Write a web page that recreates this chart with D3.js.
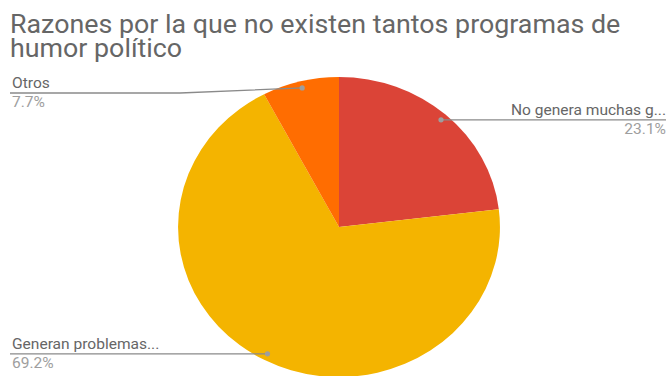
<!DOCTYPE html>
<html>
<head>
<meta charset="utf-8">
<script src="https://cdn.jsdelivr.net/npm/d3@7"></script>
<style>
  html, body { margin: 0; padding: 0; background: #fff; }
  svg { display: block; font-family: Roboto, "Noto Sans", sans-serif; }
</style>
</head>
<body>
<svg id="chart" width="668" height="376"></svg>
<script>
// Chart data
const titleLines = ["Razones por la que no existen tantos programas de", "humor político"];
const categories = ["No genera muchas g...", "Generan problemas...", "Otros"];
const values = [23.1, 69.2, 7.7];
const colors = ["#db4437", "#f4b400", "#ff6d01"];

const svg = d3.select("#chart");
const cx = 339, cy = 227, r = 150, sx = 1.073;

// Title (slightly widened, like the pie)
const title = svg.append("text")
  .attr("transform", `translate(10,33) scale(${sx},1)`)
  .attr("fill", "#666")
  .attr("font-size", 25);
title.selectAll("tspan").data(titleLines).join("tspan")
  .attr("x", 0)
  .attr("dy", (d, i) => i === 0 ? 0 : 24)
  .text(d => d);

// Pie
const pie = d3.pie().sort(null).value(d => d)(values);
const arc = d3.arc().innerRadius(0).outerRadius(r);
const dotArc = d3.arc().innerRadius(r * 0.955).outerRadius(r * 0.955);

const g = svg.append("g").attr("transform", `translate(${cx},${cy}) scale(${sx},1)`);
g.selectAll("path").data(pie).join("path")
  .attr("d", arc)
  .attr("fill", (d, i) => colors[i]);

// Leader anchors in page coordinates
const anchors = pie.map(d => {
  const c = dotArc.centroid(d);
  return [cx + c[0] * sx, cy + c[1]];
});

// Label layout: side and line level for each slice
const labelLayout = [
  { side: "right", lineY: null, x: 666 },
  { side: "left", lineY: null, x: 10 },
  { side: "left", lineY: 93, x: 10, bendX: 180 }
];

const labels = svg.append("g");
pie.forEach((d, i) => {
  const L = labelLayout[i];
  const [ax, ay] = anchors[i];
  const ly = L.lineY == null ? ay : L.lineY;
  const pts = L.bendX != null
    ? [[ax, ay], [L.bendX, ly], [L.x, ly]]
    : [[ax, ay], [L.x, ly]];
  labels.append("path")
    .attr("d", d3.line()(pts))
    .attr("fill", "none")
    .attr("stroke", "#8a8a8a")
    .attr("stroke-width", 1.3);
  labels.append("circle")
    .attr("cx", ax).attr("cy", ay).attr("r", 2.6)
    .attr("fill", "#9e9e9e");
  const anchor = L.side === "right" ? "end" : "start";
  const tx = L.x + (L.side === "right" ? 0 : 2);
  labels.append("text")
    .attr("transform", `translate(${tx},${ly - 5}) scale(${sx},1)`)
    .attr("text-anchor", anchor)
    .attr("fill", "#666")
    .attr("font-size", 14.5)
    .text(categories[i]);
  labels.append("text")
    .attr("transform", `translate(${tx},${ly + 14}) scale(${sx},1)`)
    .attr("text-anchor", anchor)
    .attr("fill", "#9e9e9e")
    .attr("font-size", 14.5)
    .text(d3.format(".1f")(values[i]) + "%");
});
</script>
</body>
</html>
